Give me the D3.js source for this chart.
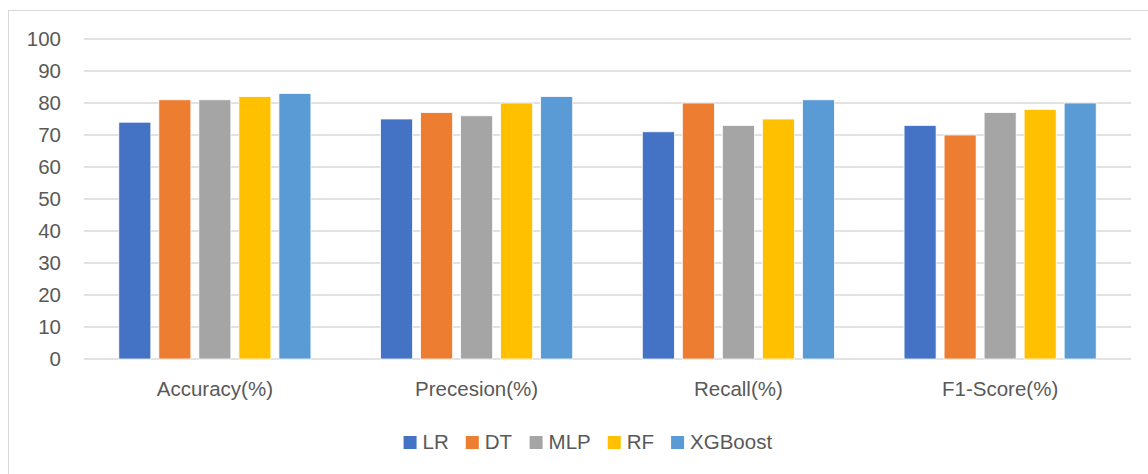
<!DOCTYPE html>
<html>
<head>
<meta charset="utf-8">
<script src="https://cdn.jsdelivr.net/npm/d3@7"></script>
<style>
  html, body { margin: 0; padding: 0; background: #fff; }
  svg { display: block; font-family: "Liberation Sans", Arial, sans-serif; }
</style>
</head>
<body>
<svg id="chart" width="1148" height="474"></svg>
<script>
// Metric categories along the x axis
const categories = ["Accuracy(%)", "Precesion(%)", "Recall(%)", "F1-Score(%)"];
// Model names (one bar per model in each category)
const models = ["LR", "DT", "MLP", "RF", "XGBoost"];
// Scores per model, in category order
const lrValues = [74, 75, 71, 73];
const dtValues = [81, 77, 80, 70];
const mlpValues = [81, 76, 73, 77];
const rfValues = [82, 80, 75, 78];
const xgbValues = [83, 82, 81, 80];
const yTicks = [0, 10, 20, 30, 40, 50, 60, 70, 80, 90, 100];
const colors = ["#4472C4", "#ED7D31", "#A5A5A5", "#FFC000", "#5B9BD5"];

const seriesValues = [lrValues, dtValues, mlpValues, rfValues, xgbValues];
const rows = categories.map((c, i) => ({
  category: c,
  values: models.map((m, j) => ({ model: m, value: seriesValues[j][i] }))
}));

const svg = d3.select("#chart");
const plot = { left: 84, right: 1131, top: 39, bottom: 359 };

// outer chart frame
svg.append("rect")
  .attr("x", 8.5).attr("y", 10.5)
  .attr("width", 1160).attr("height", 480)
  .attr("fill", "#fff").attr("stroke", "#d9d9d9").attr("stroke-width", 1);

const x0 = d3.scaleBand().domain(categories).range([plot.left, plot.right]).paddingInner(0).paddingOuter(0);
const x1 = d3.scaleBand().domain(models).range([0, x0.bandwidth()]).paddingInner(0.2).paddingOuter(0.87);
const y = d3.scaleLinear().domain([0, 100]).range([plot.bottom, plot.top]);

// horizontal gridlines
svg.append("g")
  .selectAll("line").data(yTicks).join("line")
  .attr("x1", plot.left).attr("x2", plot.right)
  .attr("y1", d => y(d)).attr("y2", d => y(d))
  .attr("stroke", "#d9d9d9").attr("stroke-width", 1.5);

// y tick labels
const yAxis = svg.append("g")
  .attr("transform", `translate(${plot.left - 23},0)`)
  .call(d3.axisLeft(y).tickValues(yTicks).tickSize(0).tickPadding(0));
yAxis.select(".domain").remove();
yAxis.selectAll("text")
  .attr("font-size", 20.5).attr("fill", "#595959")
  .attr("font-family", "Liberation Sans, Arial, sans-serif");

// bars
svg.append("g")
  .selectAll("g").data(rows).join("g")
  .attr("transform", d => `translate(${x0(d.category)},0)`)
  .selectAll("rect").data(d => d.values).join("rect")
  .attr("x", d => x1(d.model))
  .attr("width", x1.bandwidth())
  .attr("y", d => y(d.value))
  .attr("height", d => y(0) - y(d.value))
  .attr("fill", (d, i) => colors[i])
  .attr("stroke", "#fff").attr("stroke-width", 0.75);

// category labels
const xAxis = svg.append("g")
  .attr("transform", `translate(0,${plot.bottom + 22})`)
  .call(d3.axisBottom(x0).tickSize(0).tickPadding(0));
xAxis.select(".domain").remove();
xAxis.selectAll("text")
  .attr("font-size", 20.5).attr("fill", "#595959")
  .attr("font-family", "Liberation Sans, Arial, sans-serif");

// legend
const legend = svg.append("g");
const items = legend.selectAll("g").data(models).join("g");
items.append("rect")
  .attr("width", 13).attr("height", 13)
  .attr("y", -13)
  .attr("fill", (d, i) => colors[i]);
items.append("text")
  .attr("x", 19).attr("y", 0)
  .attr("font-size", 20.5).attr("fill", "#595959")
  .text(d => d);
let cx = 0;
items.each(function () {
  const w = this.getBBox().width;
  d3.select(this).attr("transform", `translate(${cx},0)`);
  cx += w + 17;
});
const totalW = cx - 17;
legend.attr("transform", `translate(${588 - totalW / 2},449)`);
</script>
</body>
</html>
